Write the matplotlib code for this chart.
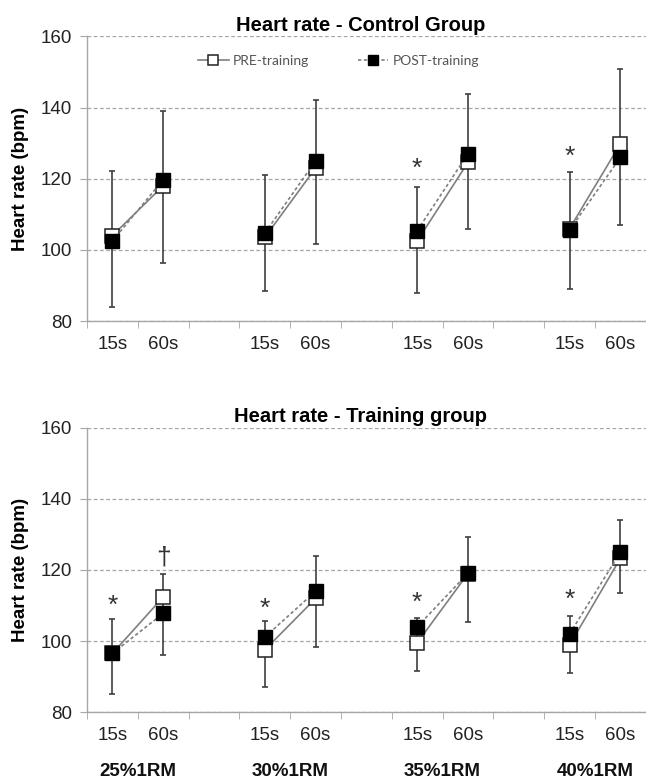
import numpy as np
import matplotlib.pyplot as plt
from matplotlib.ticker import FixedLocator, NullFormatter

plt.rcParams['font.family'] = ['Liberation Sans', 'DejaVu Sans']

groups = ["25%1RM", "30%1RM", "35%1RM", "40%1RM"]
times = ["15s", "60s"]

# control group, per load: [15s, 60s]
ctrl_pre = [[104, 118], [103.5, 123], [102.5, 124.6], [106, 129.8]]
ctrl_post = [[102.5, 119.7], [104.7, 125], [105.4, 127], [105.6, 126]]
ctrl_hi = [[122.3, 138.9], [121.1, 142], [117.8, 143.9], [122, 150.7]]
ctrl_lo = [[84, 96.3], [88.5, 101.6], [87.8, 106], [89, 107]]
ctrl_marks = [("*", 2, 0, 122.8), ("*", 3, 0, 126)]

# training group
train_pre = [[96.5, 112.4], [97.5, 112], [99.5, 119], [98.9, 123.3]]
train_post = [[96.5, 107.8], [101.1, 114], [104, 119.1], [102, 125]]
train_hi = [[106.2, 118.9], [105.6, 124], [106.4, 129.3], [107, 134]]
train_lo = [[85, 96], [87.1, 98.4], [91.5, 105.4], [91, 113.5]]
train_marks = [("*", 0, 0, 110), ("†", 0, 1, 123.6), ("*", 1, 0, 109),
               ("*", 2, 0, 110.8), ("*", 3, 0, 111.5)]

fig = plt.figure(figsize=(6.46, 7.82), dpi=100)
ax1 = fig.add_axes([0.1347, 0.5895, 0.865, 0.364])
ax2 = fig.add_axes([0.1347, 0.0895, 0.865, 0.3632])


def panel(ax, title, pre, post, hi, lo, marks, legend=False):
    for g in range(len(groups)):
        xs = [g * 3, g * 3 + 1]
        mid = [(a + b) / 2 for a, b in zip(hi[g], lo[g])]
        err = [(a - b) / 2 for a, b in zip(hi[g], lo[g])]
        ax.errorbar(xs, mid, yerr=err, fmt='none', ecolor='#404040',
                    elinewidth=1.2, capsize=2.3, capthick=1.2, zorder=2)
        ax.plot(xs, pre[g], color='#7f7f7f', lw=1.2, ls='-', marker='s',
                ms=9.5, mfc='white', mec='#222222', mew=1.1, zorder=3,
                label='PRE-training' if g == 0 else None)
        ax.plot(xs, post[g], color='#7f7f7f', lw=1.2, ls=(0, (2, 1.5)),
                marker='s', ms=9.5, mfc='black', mec='black', zorder=4,
                label='POST-training' if g == 0 else None)
    for sym, g, t, y in marks:
        ax.text(g * 3 + t, y, sym, ha='center', va='center', fontsize=19,
                color='#333333')
    ax.set_xlim(-0.5, 10.5)
    ax.set_ylim(80, 160)
    ax.set_yticks([80, 100, 120, 140, 160])
    ax.yaxis.grid(True, ls=(0, (3, 2)), color='#a6a6a6', lw=0.9)
    ax.set_axisbelow(True)
    ax.tick_params(axis='y', labelsize=13.5, length=5, color='#a6a6a6',
                   labelcolor='#222222', pad=6)
    ticks = [g * 3 + t for g in range(len(groups)) for t in range(2)]
    ax.set_xticks(ticks)
    ax.set_xticklabels(times * len(groups))
    ax.tick_params(axis='x', which='major', length=0, labelsize=13.5,
                   pad=11, labelcolor='#222222')
    ax.xaxis.set_minor_locator(FixedLocator(np.arange(-0.5, 10.6, 1)))
    ax.xaxis.set_minor_formatter(NullFormatter())
    ax.tick_params(axis='x', which='minor', length=5, color='#a6a6a6',
                   direction='out')
    for s in ['top', 'right']:
        ax.spines[s].set_visible(False)
    for s in ['left', 'bottom']:
        ax.spines[s].set_color('#a6a6a6')
        ax.spines[s].set_linewidth(1.0)
    ax.set_title(title, fontsize=14.5, fontweight='bold', pad=4, x=0.49)
    ax.set_ylabel('Heart rate (bpm)', fontsize=13.5, fontweight='bold',
                  labelpad=8)
    if legend:
        ax.legend(loc='upper center', bbox_to_anchor=(0.45, 0.98), ncol=2,
                  frameon=False, prop={'family': 'Lato', 'size': 10},
                  labelcolor='#555555', markerscale=0.8, handlelength=2.2,
                  handletextpad=0.3, columnspacing=3.5)


panel(ax1, 'Heart rate - Control Group', ctrl_pre, ctrl_post, ctrl_hi,
      ctrl_lo, ctrl_marks, legend=True)
panel(ax2, 'Heart rate - Training group', train_pre, train_post, train_hi,
      train_lo, train_marks)

for g, name in enumerate(groups):
    ax2.annotate(name, xy=(g * 3 + 0.5, 0), xycoords=('data', 'axes fraction'),
                 xytext=(0, -43), textcoords='offset points', ha='center',
                 va='center', fontsize=13.5, fontweight='bold', color='#111111')

fig.savefig('out.png', dpi=100)
